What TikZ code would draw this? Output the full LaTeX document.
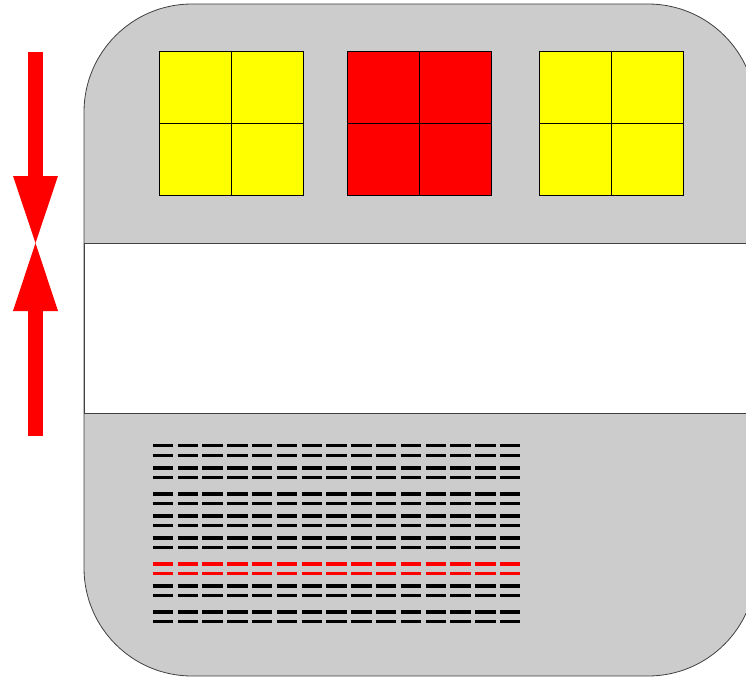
\documentclass[tikz,border=0pt]{standalone}
\definecolor{pureyellow}{RGB}{255,255,0}
\definecolor{purered}{RGB}{255,0,0}
\definecolor{bodygray}{RGB}{204,204,204}
\begin{document}
\begin{tikzpicture}[x=1pt,y=-1pt,
  outline/.style={draw=black!75,line width=0.8pt},
  cell/.style={draw=black,line width=0.7pt},
  dashrow/.style={line width=3.4pt,dash pattern=on 20.5pt off 4.3pt},
  redarrow/.style={fill=purered,draw=none}]
\useasboundingbox (0,0) rectangle (746,677);
\begin{scope}
\clip (0,0) rectangle (746,677);
% gray body
\path[fill=bodygray,outline,rounded corners=108pt] (84,4) rectangle (756,676);
% white band
\path[fill=white] (84,243) rectangle (760,413);
\draw[outline] (84,243) -- (760,243);
\draw[outline] (84,413) -- (760,413);
\draw[outline] (84,243) -- (84,413);
\end{scope}
% grids
\foreach \x/\c in {159/pureyellow,347/purered,539/pureyellow}{
  \path[fill=\c] (\x,51) rectangle ++(144,144);
  \draw[cell] (\x,51) rectangle ++(144,144);
  \draw[cell] (\x+72,51) -- ++(0,144);
  \draw[cell] (\x,123) -- ++(144,0);
}
% arrows
\path[redarrow] (28,52) rectangle (43,177);
\path[redarrow] (13,176) -- (58,176) -- (35.5,243) -- cycle;
\path[redarrow] (13,311) -- (58,311) -- (35.5,243) -- cycle;
\path[redarrow] (28,310) rectangle (43,436);
% dash rows
\foreach \y/\c in {445.7/black,455.3/black,468/black,477.3/black,494/black,503.3/black,516/black,525.3/black,538/black,547.3/black,564/purered,573.3/purered,586/black,595.3/black,612/black,621.3/black}{
  \draw[dashrow,\c] (152.7,\y) -- (521,\y);
}
\end{tikzpicture}
\end{document}
